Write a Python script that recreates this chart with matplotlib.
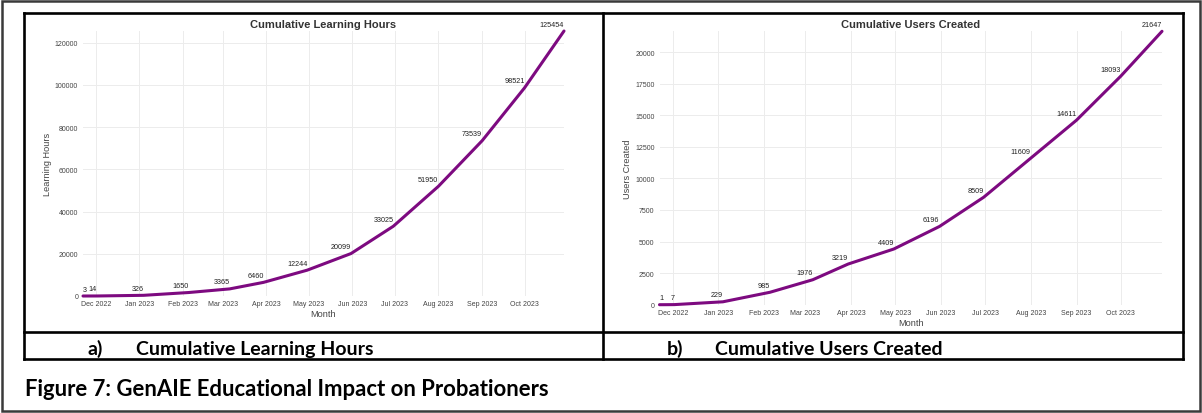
import matplotlib
matplotlib.use("Agg")
from matplotlib import pyplot as plt
from matplotlib.lines import Line2D
import matplotlib.dates as mdates
import numpy as np

W, H = 1202, 414

# first date is the start of the line (not labelled), the rest carry a value label
dates = np.array(['2022-11-22', '2022-11-25', '2022-12-02', '2023-01-04', '2023-02-05',
                  '2023-03-06', '2023-03-30', '2023-04-30', '2023-05-31', '2023-06-30',
                  '2023-08-01', '2023-09-01', '2023-10-01', '2023-10-29'], dtype='datetime64[D]')
learning_hours = [0, 3, 14, 326, 1650, 3365, 6460, 12244, 20099, 33025, 51950, 73539, 98521, 125454]
users_created = [0, 1, 7, 229, 985, 1976, 3219, 4409, 6196, 8509, 11609, 14611, 18093, 21647]

plt.rcParams['font.family'] = ['Liberation Sans', 'DejaVu Sans']


def fx(x):
    return x / W


def fy(y):
    return 1 - y / H


def draw_chart(ax, values, title, ylabel, step):
    ax.plot(dates, values, color='#7d0a80', lw=2.2, solid_capstyle='round', clip_on=False, zorder=3)
    for d, v in zip(dates[1:], values[1:]):
        ax.annotate(str(v), (d, v), xytext=(0, 2.5), textcoords='offset points',
                    ha='right', va='bottom', fontsize=5.2, color='#222222', zorder=4)
    ax.set_xlim(dates[0], dates[-1])
    ax.set_ylim(0, max(values))
    ax.yaxis.set_major_locator(plt.MultipleLocator(step))
    ax.xaxis.set_major_locator(mdates.MonthLocator())
    ax.xaxis.set_major_formatter(mdates.DateFormatter('%b %Y'))
    ax.grid(True, color='#ececec', lw=0.7)
    ax.set_axisbelow(True)
    for s in ax.spines.values():
        s.set_visible(False)
    ax.tick_params(length=0, labelsize=5, labelcolor='#444444')
    ax.tick_params(axis='y', pad=3.5)
    ax.tick_params(axis='x', pad=3)
    ax.set_title(title, fontsize=8, fontweight='bold', color='#333333', pad=3)
    ax.set_xlabel('Month', fontsize=6.6, color='#444444', labelpad=1.5)
    ax.set_ylabel(ylabel, fontsize=6.6, color='#444444', labelpad=2)


fig = plt.figure(figsize=(W / 100, H / 100), dpi=100)

ax1 = fig.add_axes([fx(83), fy(297), fx(564 - 83), (297 - 32) / H])
draw_chart(ax1, learning_hours, 'Cumulative Learning Hours', 'Learning Hours', 20000)

ax2 = fig.add_axes([fx(659.5), fy(305.7), fx(1162 - 659.5), (305.7 - 32.3) / H])
draw_chart(ax2, users_created, 'Cumulative Users Created', 'Users Created', 2500)

# outer frame of the page region
fig.add_artist(plt.Rectangle((fx(2), fy(412)), fx(1198), (412 - 2) / H, transform=fig.transFigure,
                             fill=False, ec='#3a3a3a', lw=1.8))

# table lines
tbl = dict(color='black', lw=1.9, transform=fig.transFigure)
fig.add_artist(Line2D([fx(24), fx(1183)], [fy(14), fy(14)], **tbl))
fig.add_artist(Line2D([fx(24), fx(1183)], [fy(332.5), fy(332.5)], **tbl))
fig.add_artist(Line2D([fx(24), fx(1183)], [fy(360), fy(360)], **tbl))
fig.add_artist(Line2D([fx(24), fx(24)], [fy(14), fy(360)], **tbl))
fig.add_artist(Line2D([fx(603), fx(603)], [fy(14), fy(360)], **tbl))
fig.add_artist(Line2D([fx(1183), fx(1183)], [fy(14), fy(360)], **tbl))

cap = dict(fontfamily=['Lato', 'DejaVu Sans'], fontweight='bold', va='baseline', color='black')
fig.text(fx(88), fy(355), 'a)', fontsize=14, **cap)
fig.text(fx(136), fy(355), 'Cumulative Learning Hours', fontsize=14, **cap)
fig.text(fx(667), fy(355), 'b)', fontsize=14, **cap)
fig.text(fx(715), fy(355), 'Cumulative Users Created', fontsize=14, **cap)
fig.text(fx(25), fy(396), 'Figure 7: GenAIE Educational Impact on Probationers', fontsize=15.9, **cap)

fig.savefig('out.png', dpi=100)
